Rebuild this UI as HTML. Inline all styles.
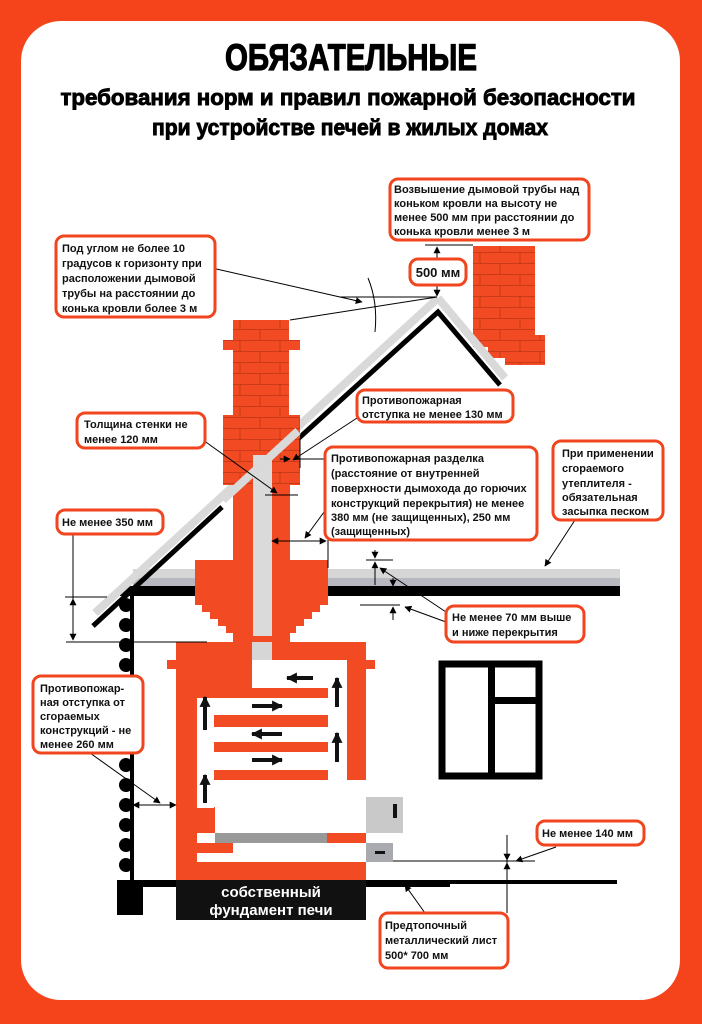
<!DOCTYPE html>
<html><head><meta charset="utf-8"><style>
html,body{margin:0;padding:0;background:#fff}
svg{display:block}
text{font-family:"Liberation Sans",sans-serif;font-weight:bold}
.l{font-size:11px;fill:#111}
</style></head><body>
<svg width="702" height="1024" viewBox="0 0 702 1024" xmlns="http://www.w3.org/2000/svg">
<defs>
<pattern id="br" x="0" y="0" width="40" height="22" patternUnits="userSpaceOnUse">
<rect width="40" height="22" fill="#f24a22"/>
<path d="M0 10.5H40M0 21.5H40M20 0V11M0 11V22M40 11V22" stroke="#c83a18" stroke-width="1"/>
</pattern>
<marker id="a" viewBox="0 0 10 10" refX="9" refY="5" markerWidth="7" markerHeight="7" orient="auto-start-reverse"><path d="M0 0L10 5L0 10z" fill="#000"/></marker>
<marker id="b" viewBox="0 0 10 10" refX="9" refY="5" markerUnits="userSpaceOnUse" markerWidth="11" markerHeight="11" orient="auto"><path d="M0 0L10 5L0 10z" fill="#111"/></marker>
</defs>
<rect width="702" height="1024" fill="#f5441c"/>
<rect x="21" y="21" width="659" height="979" rx="40" fill="#fff"/>

<text x="351" y="70" text-anchor="middle" font-size="37" textLength="252" lengthAdjust="spacingAndGlyphs" stroke="#000" stroke-width="1.2">ОБЯЗАТЕЛЬНЫЕ</text>
<text x="348" y="105" text-anchor="middle" font-size="22" textLength="575" lengthAdjust="spacingAndGlyphs" stroke="#000" stroke-width="0.9">требования норм и правил пожарной безопасности</text>
<text x="350" y="135" text-anchor="middle" font-size="22" textLength="396" lengthAdjust="spacingAndGlyphs" stroke="#000" stroke-width="0.9">при устройстве печей в жилых домах</text>

<path d="M473 246H535V335H545V365H505V358H488V347H473Z" fill="url(#br)"/>

<rect x="133" y="569" width="487" height="17" fill="#d6d6d6"/>
<rect x="133" y="578" width="487" height="8" fill="#b8b8c0"/>
<rect x="120" y="586" width="500" height="10" fill="#000"/>

<line x1="95" y1="613" x2="438" y2="298" stroke="#d9d9d9" stroke-width="8"/>
<line x1="438" y1="298" x2="505" y2="378" stroke="#d9d9d9" stroke-width="8"/>
<polyline points="299,438 438,312 500,385" fill="none" stroke="#000" stroke-width="5"/>

<path d="M233 320H289V340H300V350H289V415H300V485H223V415H233V350H223V340H233Z" fill="url(#br)"/>
<rect x="233" y="485" width="57" height="75" fill="#f24a22"/>
<rect x="253" y="455" width="19" height="190" fill="#dadada"/>
<path d="M195 560H328V605H320V612H312V619H304V626H296V633H290V645H233V633H226V626H218V619H210V612H202V605H195Z" fill="#f24a22"/>
<rect x="253" y="560" width="19" height="85" fill="#dadada"/>
<line x1="223" y1="500" x2="298" y2="431" stroke="#d9d9d9" stroke-width="8"/>
<line x1="93" y1="626" x2="222" y2="507" stroke="#000" stroke-width="5"/>

<rect x="130" y="596" width="4" height="284" fill="#000"/>
<g fill="#000">
<circle cx="126" cy="605" r="7"/><circle cx="126" cy="625" r="7"/><circle cx="126" cy="645" r="7"/><circle cx="126" cy="665" r="7"/><circle cx="126" cy="685" r="7"/><circle cx="126" cy="705" r="7"/><circle cx="126" cy="725" r="7"/><circle cx="126" cy="745" r="7"/><circle cx="126" cy="765" r="7"/><circle cx="126" cy="785" r="7"/><circle cx="126" cy="805" r="7"/><circle cx="126" cy="825" r="7"/><circle cx="126" cy="845" r="7"/><circle cx="126" cy="865" r="7"/>
</g>
<rect x="117" y="880" width="26" height="35" fill="#000"/>
<rect x="143" y="880" width="307" height="7" fill="#000"/>
<rect x="450" y="880" width="167" height="4" fill="#000"/>

<rect x="176" y="642" width="190" height="238" fill="#f24a22"/>
<rect x="167" y="660" width="208" height="9" fill="#f24a22"/>
<rect x="233" y="636" width="57" height="10" fill="#f24a22"/>
<g fill="#fff">
<rect x="252" y="646" width="20" height="20"/>
<rect x="252" y="660" width="95" height="28"/>
<rect x="328" y="660" width="19" height="120"/>
<rect x="197" y="698" width="150" height="17"/>
<rect x="197" y="698" width="17" height="110"/>
<rect x="197" y="727" width="150" height="15"/>
<rect x="197" y="752" width="150" height="18"/>
<rect x="197" y="780" width="18" height="27"/>
<rect x="197" y="780" width="150" height="17"/>
<rect x="215" y="780" width="151" height="53"/>
<rect x="197" y="833" width="18" height="10"/>
<rect x="197" y="853" width="169" height="9"/>
<rect x="233" y="843" width="133" height="19"/>
</g>
<rect x="252" y="642" width="20" height="18" fill="#d6d6d6"/>
<rect x="215" y="833" width="112" height="10" fill="#999"/>
<rect x="366" y="797" width="37" height="36" fill="#c9c9c9"/>
<rect x="393" y="804" width="4" height="14" fill="#111"/>
<rect x="366" y="843" width="27" height="19" fill="#a9a9b0"/>
<rect x="375" y="851" width="10" height="3" fill="#111"/>
<g stroke="#111" stroke-width="4" fill="none" marker-end="url(#b)">
<line x1="313" y1="678" x2="287" y2="678"/>
<line x1="337" y1="707" x2="337" y2="678"/>
<line x1="252" y1="706" x2="282" y2="706"/>
<line x1="282" y1="734" x2="252" y2="734"/>
<line x1="252" y1="760" x2="282" y2="760"/>
<line x1="337" y1="762" x2="337" y2="733"/>
<line x1="205" y1="730" x2="205" y2="697"/>
<line x1="205" y1="803" x2="205" y2="775"/>
</g>
<rect x="176" y="880" width="190" height="40" fill="#111"/>
<text x="271" y="897" text-anchor="middle" font-size="15" fill="#fff">собственный</text>
<text x="271" y="915" text-anchor="middle" font-size="15" fill="#fff">фундамент печи</text>

<rect x="442" y="664" width="97" height="112" fill="none" stroke="#000" stroke-width="7"/>
<rect x="488" y="664" width="7" height="112" fill="#000"/>
<rect x="491" y="697" width="48" height="7" fill="#000"/>

<g stroke="#000" stroke-width="1" fill="none">
<line x1="425" y1="245" x2="473" y2="245"/>
<line x1="437" y1="258" x2="437" y2="247" marker-end="url(#a)"/>
<line x1="437" y1="286" x2="437" y2="296" marker-end="url(#a)"/>
<line x1="340" y1="297" x2="437" y2="297"/>
<line x1="290" y1="320" x2="437" y2="297"/>
<path d="M368 278Q378 302 375 332"/>
<line x1="212" y1="268" x2="362" y2="302" marker-end="url(#a)"/>
<line x1="357" y1="418" x2="293" y2="460" marker-end="url(#a)"/>
<line x1="300" y1="438" x2="300" y2="468"/>
<line x1="300" y1="459" x2="325" y2="459"/>
<line x1="280" y1="459" x2="290" y2="459" marker-end="url(#a)"/>
<line x1="203" y1="440" x2="277" y2="493" marker-end="url(#a)"/>
<line x1="265" y1="495" x2="298" y2="495"/>
<line x1="272" y1="541" x2="326" y2="541" marker-start="url(#a)" marker-end="url(#a)"/>
<line x1="328" y1="540" x2="328" y2="568"/>
<line x1="327" y1="508" x2="305" y2="538" marker-end="url(#a)"/>
<line x1="73" y1="534" x2="73" y2="640" marker-end="url(#a)"/>
<line x1="73" y1="620" x2="73" y2="599" marker-end="url(#a)"/>
<line x1="65" y1="597" x2="107" y2="597"/>
<line x1="66" y1="642" x2="207" y2="642"/>
<line x1="366" y1="560" x2="393" y2="560"/>
<line x1="375" y1="550" x2="375" y2="558" marker-end="url(#a)"/>
<line x1="375" y1="585" x2="375" y2="562" marker-end="url(#a)"/>
<line x1="393" y1="578" x2="393" y2="586" marker-end="url(#a)"/>
<line x1="393" y1="620" x2="393" y2="607" marker-end="url(#a)"/>
<line x1="360" y1="605" x2="400" y2="605"/>
<line x1="446" y1="612" x2="380" y2="568" marker-end="url(#a)"/>
<line x1="446" y1="622" x2="405" y2="607" marker-end="url(#a)"/>
<line x1="575" y1="520" x2="545" y2="566" marker-end="url(#a)"/>
<line x1="90" y1="753" x2="160" y2="803" marker-end="url(#a)"/>
<line x1="133" y1="805" x2="176" y2="805" marker-start="url(#a)" marker-end="url(#a)"/>
<line x1="393" y1="861" x2="535" y2="861"/>
<line x1="507" y1="835" x2="507" y2="913"/>
<line x1="507" y1="852" x2="507" y2="860" marker-end="url(#a)"/>
<line x1="507" y1="875" x2="507" y2="863" marker-end="url(#a)"/>
<line x1="556" y1="847" x2="516" y2="861" marker-end="url(#a)"/>
<line x1="425" y1="913" x2="405" y2="885" marker-end="url(#a)"/>
</g>

<g fill="#fff" stroke="#f0451e" stroke-width="3">
<rect x="390" y="179" width="199" height="61" rx="8"/>
<rect x="410" y="259" width="56" height="26" rx="8"/>
<rect x="56" y="236" width="159" height="81" rx="8"/>
<rect x="357" y="390" width="156" height="32" rx="8"/>
<rect x="77" y="413" width="128" height="35" rx="8"/>
<rect x="325" y="447" width="212" height="93" rx="8"/>
<rect x="553" y="441" width="110" height="79" rx="8"/>
<rect x="57" y="510" width="106" height="24" rx="8"/>
<rect x="446" y="606" width="138" height="36" rx="8"/>
<rect x="33" y="676" width="110" height="77" rx="8"/>
<rect x="537" y="821" width="107" height="24" rx="8"/>
<rect x="380" y="913" width="128" height="55" rx="8"/>
</g>
<g class="l">
<text x="394" y="193" class="l">Возвышение дымовой трубы над</text>
<text x="394" y="207" class="l">коньком кровли на высоту не</text>
<text x="394" y="221" class="l">менее 500 мм при расстоянии до</text>
<text x="394" y="235" class="l">конька кровли  менее 3 м</text>
<text x="438" y="277" text-anchor="middle" font-size="13">500 мм</text>
<text x="62" y="252" class="l">Под углом не более 10</text>
<text x="62" y="267" class="l">градусов к горизонту при</text>
<text x="62" y="282" class="l">расположении дымовой</text>
<text x="62" y="297" class="l">трубы на расстоянии до</text>
<text x="62" y="312" class="l">конька кровли более 3 м</text>
<text x="362" y="404" class="l">Противопожарная</text>
<text x="362" y="418" class="l">отступка не менее 130 мм</text>
<text x="84" y="428" class="l">Толщина стенки не</text>
<text x="84" y="443" class="l">менее 120 мм</text>
<text x="331" y="462" class="l">Противопожарная разделка</text>
<text x="331" y="477" class="l">(расстояние от внутренней</text>
<text x="331" y="492" class="l">поверхности дымохода до горючих</text>
<text x="331" y="507" class="l">конструкций перекрытия) не менее</text>
<text x="331" y="521" class="l">380 мм (не защищенных), 250 мм</text>
<text x="331" y="535" class="l">(защищенных)</text>
<text x="562" y="457" class="l">При применении</text>
<text x="562" y="472" class="l">сгораемого</text>
<text x="562" y="487" class="l">утеплителя -</text>
<text x="562" y="501" class="l">обязательная</text>
<text x="562" y="515" class="l">засыпка песком</text>
<text x="62" y="526" class="l">Не менее 350 мм</text>
<text x="452" y="621" class="l">Не менее 70 мм выше</text>
<text x="452" y="636" class="l">и ниже перекрытия</text>
<text x="40" y="692" class="l">Противопожар-</text>
<text x="40" y="706" class="l">ная отступка от</text>
<text x="40" y="720" class="l">сгораемых</text>
<text x="40" y="734" class="l">конструкций - не</text>
<text x="40" y="748" class="l">менее 260 мм</text>
<text x="542" y="837" class="l">Не менее 140 мм</text>
<text x="385" y="929" class="l">Предтопочный</text>
<text x="385" y="944" class="l">металлический лист</text>
<text x="385" y="959" class="l">500* 700 мм</text>
</g>
</svg>
</body></html>
